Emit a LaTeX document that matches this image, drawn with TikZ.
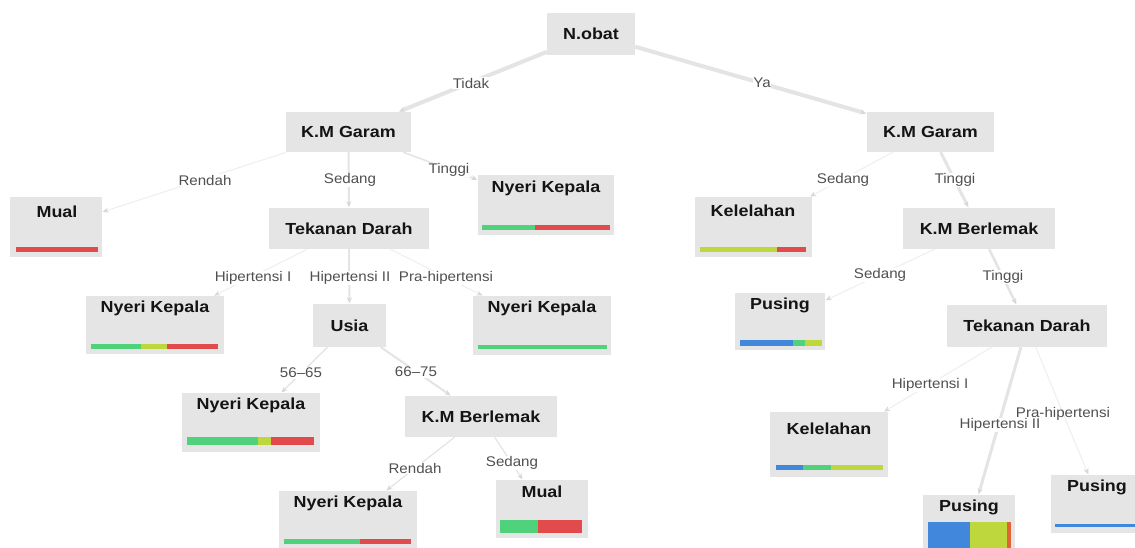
\documentclass[tikz,border=0pt]{standalone}
\usepackage{fontspec}
\setmainfont{Liberation Sans}
\newfontfamily\nodef[FakeStretch=1.12]{Liberation Sans}
\newfontfamily\lblf[FakeStretch=1.08]{Liberation Sans}
\usetikzlibrary{arrows.meta}
\definecolor{boxgray}{RGB}{229,229,229}
\definecolor{edgegray}{RGB}{228,228,228}
\definecolor{edgelight}{RGB}{238,238,238}
\definecolor{tipgray}{RGB}{215,215,215}
\definecolor{txt}{RGB}{20,20,20}
\definecolor{lbltxt}{RGB}{80,80,80}
\definecolor{cgreen}{RGB}{80,210,125}
\definecolor{cred}{RGB}{225,75,75}
\definecolor{cyg}{RGB}{190,215,60}
\definecolor{cblue}{RGB}{65,135,220}
\definecolor{corange}{RGB}{225,100,55}
\tikzset{
  inode/.style={fill=boxgray, draw=none, inner sep=0pt, text=txt,
    font={\nodef\fontsize{16}{19}\selectfont\bfseries}},
  leafbox/.style={fill=boxgray, draw=none, inner sep=0pt},
  leaftext/.style={inner sep=0pt, text=txt,
    font={\nodef\fontsize{16}{19}\selectfont\bfseries}},
  edge/.style={draw=edgegray, -{Stealth[length=6pt,width=5pt,color=tipgray]}, shorten >=0.5pt},
  thinedge/.style={edge, draw=edgelight, line width=1pt},
  lbl/.style={fill=white, inner sep=0.8pt, text=lbltxt,
    font={\lblf\fontsize{14}{16}\selectfont}},
}
\begin{document}
\begin{tikzpicture}[x=1pt,y=-1pt]
\useasboundingbox (0,0) rectangle (1135,547);
\clip (0,0) rectangle (1135,547);
\fill[white] (0,0) rectangle (1135,547);

% internal nodes
\node[inode, minimum width=88, minimum height=42] (nobat) at (591,34) {N.obat};
\node[inode, minimum width=125, minimum height=40] (kmg1) at (348.5,132) {K.M Garam};
\node[inode, minimum width=160, minimum height=41] (td1) at (349,228.5) {Tekanan Darah};
\node[inode, minimum width=73, minimum height=43] (usia) at (349.5,325.5) {Usia};
\node[inode, minimum width=152, minimum height=41] (kmb1) at (481,416.5) {K.M Berlemak};
\node[inode, minimum width=127, minimum height=40] (kmg2) at (930.5,132) {K.M Garam};
\node[inode, minimum width=152, minimum height=41] (kmb2) at (979,228.5) {K.M Berlemak};
\node[inode, minimum width=160, minimum height=42] (td2) at (1027,326) {Tekanan Darah};

% leaf boxes
\node[leafbox, minimum width=92, minimum height=60] (mual1) at (56,227) {};
\node[leafbox, minimum width=136, minimum height=60] (nk1) at (546,205) {};
\node[leafbox, minimum width=138, minimum height=58] (nk2) at (155,325) {};
\node[leafbox, minimum width=138, minimum height=59] (nk3) at (542,325.5) {};
\node[leafbox, minimum width=138, minimum height=59] (nk4) at (251,422.5) {};
\node[leafbox, minimum width=138, minimum height=59] (nk5) at (348,520.5) {};
\node[leafbox, minimum width=92, minimum height=58] (mual2) at (542,509) {};
\node[leafbox, minimum width=117, minimum height=60] (kel1) at (753.5,227) {};
\node[leafbox, minimum width=90, minimum height=57] (pus1) at (780,321.5) {};
\node[leafbox, minimum width=118, minimum height=65] (kel2) at (829,444.5) {};
\node[leafbox, minimum width=92, minimum height=65] (pus2) at (969,527.5) {};
\node[leafbox, minimum width=99, minimum height=58] (pus3) at (1100.5,504) {};

% leaf texts
\node[leaftext] (mual1t) at (57,212) {Mual};
\node[leaftext] (nk1t) at (546,188) {Nyeri Kepala};
\node[leaftext] (nk2t) at (155,308) {Nyeri Kepala};
\node[leaftext] (nk3t) at (542,308) {Nyeri Kepala};
\node[leaftext] (nk4t) at (251,405) {Nyeri Kepala};
\node[leaftext] (nk5t) at (348,503) {Nyeri Kepala};
\node[leaftext] (mual2t) at (542,492) {Mual};
\node[leaftext] (kel1t) at (753,211) {Kelelahan};
\node[leaftext] (pus1t) at (780,305) {Pusing};
\node[leaftext] (kel2t) at (829,429) {Kelelahan};
\node[leaftext] (pus2t) at (969,507) {Pusing};
\node[leaftext] (pus3t) at (1097,487) {Pusing};

% bars
\fill[cred] (16,247) rectangle (98,252);
\fill[cgreen] (482,225) rectangle (535,230);
\fill[cred] (535,225) rectangle (610,230);
\fill[cgreen] (91,344) rectangle (141,349);
\fill[cyg] (141,344) rectangle (167,349);
\fill[cred] (167,344) rectangle (218,349);
\fill[cgreen] (478,345) rectangle (607,349);
\fill[cgreen] (187,437) rectangle (258,445);
\fill[cyg] (258,437) rectangle (271,445);
\fill[cred] (271,437) rectangle (314,445);
\fill[cgreen] (284,539) rectangle (360,544);
\fill[cred] (360,539) rectangle (411,544);
\fill[cgreen] (500,520) rectangle (538,533);
\fill[cred] (538,520) rectangle (582,533);
\fill[cyg] (700,247) rectangle (777,252);
\fill[cred] (777,247) rectangle (806,252);
\fill[cblue] (740,340) rectangle (793,346);
\fill[cgreen] (793,340) rectangle (805,346);
\fill[cyg] (805,340) rectangle (822,346);
\fill[cblue] (776,465) rectangle (803,470);
\fill[cgreen] (803,465) rectangle (831,470);
\fill[cyg] (831,465) rectangle (883,470);
\fill[cblue] (928,522) rectangle (970,550);
\fill[cyg] (970,522) rectangle (1007,550);
\fill[corange] (1007,522) rectangle (1011,550);
\fill[cblue] (1055,524) rectangle (1140,527);

% edges
\draw[edge, line width=4pt] (nobat) -- (kmg1);
\draw[edge, line width=4pt] (nobat) -- (kmg2);
\draw[thinedge] (kmg1) -- (mual1);
\draw[edge, line width=2pt] (kmg1) -- (td1);
\draw[edge, line width=1.5pt] (kmg1) -- (nk1);
\draw[thinedge] (td1) -- (nk2);
\draw[edge, line width=2pt] (td1) -- (usia);
\draw[thinedge] (td1) -- (nk3);
\draw[edge, line width=1.3pt] (usia) -- (nk4);
\draw[edge, line width=2pt] (usia) -- (kmb1);
\draw[edge, line width=1.2pt] (kmb1) -- (nk5);
\draw[edge, line width=1.2pt] (kmb1) -- (mual2);
\draw[thinedge] (kmg2) -- (kel1);
\draw[edge, line width=3pt] (kmg2) -- (kmb2);
\draw[thinedge] (kmb2) -- (pus1);
\draw[edge, line width=2.5pt] (kmb2) -- (td2);
\draw[thinedge] (td2) -- (kel2);
\draw[edge, line width=3pt] (td2) -- (pus2);
\draw[thinedge] (td2) -- (pus3);

% edge labels
\node[lbl] (l1) at (471,83) {Tidak};
\node[lbl] (l2) at (762,83) {Ya};
\node[lbl] (l3) at (205,180) {Rendah};
\node[lbl] (l4) at (350,180) {Sedang};
\node[lbl] (l5) at (449,170) {Tinggi};
\node[lbl] (l6) at (843,180) {Sedang};
\node[lbl] (l7) at (955,180) {Tinggi};
\node[lbl] (l8) at (253,278) {Hipertensi I};
\node[lbl] (l9) at (350,278) {Hipertensi II};
\node[lbl] (l10) at (446,278) {Pra-hipertensi};
\node[lbl] (l11) at (301,373) {56–65};
\node[lbl] (l12) at (416,372) {66–75};
\node[lbl] (l13) at (415,468) {Rendah};
\node[lbl] (l14) at (512,463) {Sedang};
\node[lbl] (l15) at (880,275) {Sedang};
\node[lbl] (l16) at (1003,277) {Tinggi};
\node[lbl] (l17) at (930,385) {Hipertensi I};
\node[lbl] (l18) at (1000,425) {Hipertensi II};
\node[lbl, fill=none] (l19) at (1063,414) {Pra-hipertensi};
\end{tikzpicture}
\end{document}
